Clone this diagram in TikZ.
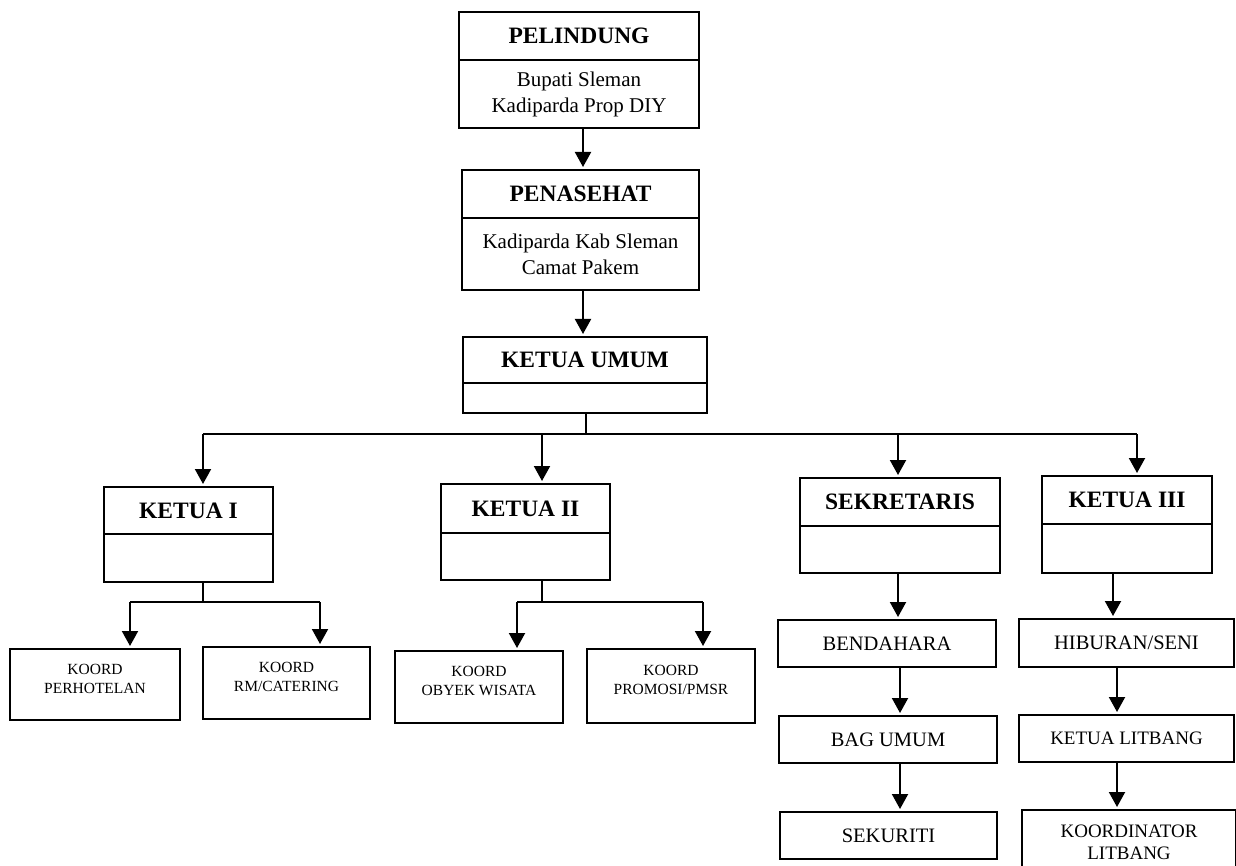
\documentclass[tikz,border=0pt]{standalone}
\usepackage{fontspec}
\setmainfont{Liberation Serif}
\usetikzlibrary{arrows.meta,calc}
\begin{document}
\begin{tikzpicture}[x=1pt,y=-1pt,
  box/.style={draw, line width=2pt, rectangle, inner sep=0pt, align=center},
  ttl/.style={font=\fontsize{23.5}{28}\selectfont\bfseries, inner sep=0pt},
  bod/.style={font=\fontsize{21}{26}\selectfont, align=center, inner sep=0pt},
  mid/.style={font=\fontsize{20.5}{24}\selectfont, align=center},
  mids/.style={font=\fontsize{19}{22}\selectfont, align=center},
  sml/.style={font=\fontsize{15.5}{19}\selectfont, align=center, text depth=12pt},
  ln/.style={line width=2pt},
  arr/.style={line width=2pt, shorten >=2pt, -{Triangle[length=15pt,width=16pt]}}]
\clip (0,0) rectangle (1236,866);
\useasboundingbox (0,0) rectangle (1236,866);
\fill[white] (0,0) rectangle (1236,866);

% headed boxes
\node[box, minimum width=240pt, minimum height=116pt] (pel) at (579,70) {};
\draw[ln] (pel.west |- 0,60) -- (pel.east |- 0,60);
\node[ttl] (pelT) at (579,36) {PELINDUNG};
\node[bod] (pelB) at (579,94) {Bupati Sleman\\Kadiparda Prop DIY};

\node[box, minimum width=237pt, minimum height=120pt] (pen) at (580.5,230) {};
\draw[ln] (pen.west |- 0,218) -- (pen.east |- 0,218);
\node[ttl] (penT) at (580.5,194) {PENASEHAT};
\node[bod] (penB) at (580.5,254) {Kadiparda Kab Sleman\\Camat Pakem};

\node[box, minimum width=244pt, minimum height=76pt] (ku) at (585,375) {};
\draw[ln] (ku.west |- 0,383) -- (ku.east |- 0,383);
\node[ttl] (kuT) at (585,360) {KETUA UMUM};

\node[box, minimum width=169pt, minimum height=95pt] (k1) at (188.5,534.5) {};
\draw[ln] (k1.west |- 0,534) -- (k1.east |- 0,534);
\node[ttl] (k1T) at (188.5,510.5) {KETUA I};

\node[box, minimum width=169pt, minimum height=96pt] (k2) at (525.5,532) {};
\draw[ln] (k2.west |- 0,533) -- (k2.east |- 0,533);
\node[ttl] (k2T) at (525.5,508.5) {KETUA II};

\node[box, minimum width=200pt, minimum height=95pt] (sek) at (900,525.5) {};
\draw[ln] (sek.west |- 0,526) -- (sek.east |- 0,526);
\node[ttl] (sekT) at (900,502) {SEKRETARIS};

\node[box, minimum width=170pt, minimum height=97pt] (k3) at (1127,524.5) {};
\draw[ln] (k3.west |- 0,524) -- (k3.east |- 0,524);
\node[ttl] (k3T) at (1127,500) {KETUA III};

% lower boxes
\node[box, sml, minimum width=170pt, minimum height=71pt] (perh) at (95,684.5) {KOORD\\PERHOTELAN};
\node[box, sml, minimum width=167pt, minimum height=72pt] (rm) at (286.5,683) {KOORD\\RM/CATERING};
\node[box, sml, minimum width=168pt, minimum height=72pt] (oby) at (479,687) {KOORD\\OBYEK WISATA};
\node[box, sml, minimum width=168pt, minimum height=74pt] (prom) at (671,686) {KOORD\\PROMOSI/PMSR};

\node[box, mid, minimum width=218pt, minimum height=47pt] (bend) at (887,643.5) {BENDAHARA};
\node[box, mid, minimum width=218pt, minimum height=47pt] (bag) at (888,739.5) {BAG UMUM};
\node[box, mid, minimum width=217pt, minimum height=47pt] (seku) at (888.5,835.5) {SEKURITI};

\node[box, mid, minimum width=215pt, minimum height=48pt] (hib) at (1126.5,643) {HIBURAN/SENI};
\node[box, mids, minimum width=215pt, minimum height=47pt] (ketl) at (1126.5,738.5) {KETUA LITBANG};
\node[box, mids, minimum width=214pt, minimum height=70pt, text depth=6pt] (koor) at (1129,845) {KOORDINATOR\\LITBANG};

% top chain
\coordinate (a1) at ([xshift=4pt]pel.south);
\draw[arr] (a1) -- (a1 |- pen.north);
\coordinate (a2) at ([xshift=2.5pt]pen.south);
\draw[arr] (a2) -- (a2 |- ku.north);

% distribution bar
\coordinate (h0) at (586,434);
\coordinate (hL) at (203,434);
\coordinate (h2) at (542,434);
\coordinate (h3) at (898,434);
\coordinate (hR) at (1137,434);
\draw[ln] (h0 |- ku.south) -- (h0);
\draw[ln] (hL) -- (hR);
\draw[arr] (hL) -- (hL |- k1.north);
\draw[arr] (h2) -- (h2 |- k2.north);
\draw[arr] (h3) -- (h3 |- sek.north);
\draw[arr] (hR) -- (hR |- k3.north);

% ketua I children
\coordinate (c1) at (203,602);
\coordinate (c1L) at (130,602);
\coordinate (c1R) at (320,602);
\draw[ln] (c1 |- k1.south) -- (c1);
\draw[ln] (c1L) -- (c1R);
\draw[arr] (c1L) -- (c1L |- perh.north);
\draw[arr] (c1R) -- (c1R |- rm.north);

% ketua II children
\coordinate (c2) at (542,602);
\coordinate (c2L) at (517,602);
\coordinate (c2R) at (703,602);
\draw[ln] (c2 |- k2.south) -- (c2);
\draw[ln] (c2L) -- (c2R);
\draw[arr] (c2L) -- (c2L |- oby.north);
\draw[arr] (c2R) -- (c2R |- prom.north);

% sekretaris column
\coordinate (s1) at (898,0);
\coordinate (s2) at (900,0);
\draw[arr] (s1 |- sek.south) -- (s1 |- bend.north);
\draw[arr] (s2 |- bend.south) -- (s2 |- bag.north);
\draw[arr] (s2 |- bag.south) -- (s2 |- seku.north);

% ketua III column
\coordinate (t1) at (1113,0);
\coordinate (t2) at (1117,0);
\draw[arr] (t1 |- k3.south) -- (t1 |- hib.north);
\draw[arr] (t2 |- hib.south) -- (t2 |- ketl.north);
\draw[arr] (t2 |- ketl.south) -- (t2 |- koor.north);
\end{tikzpicture}
\end{document}
